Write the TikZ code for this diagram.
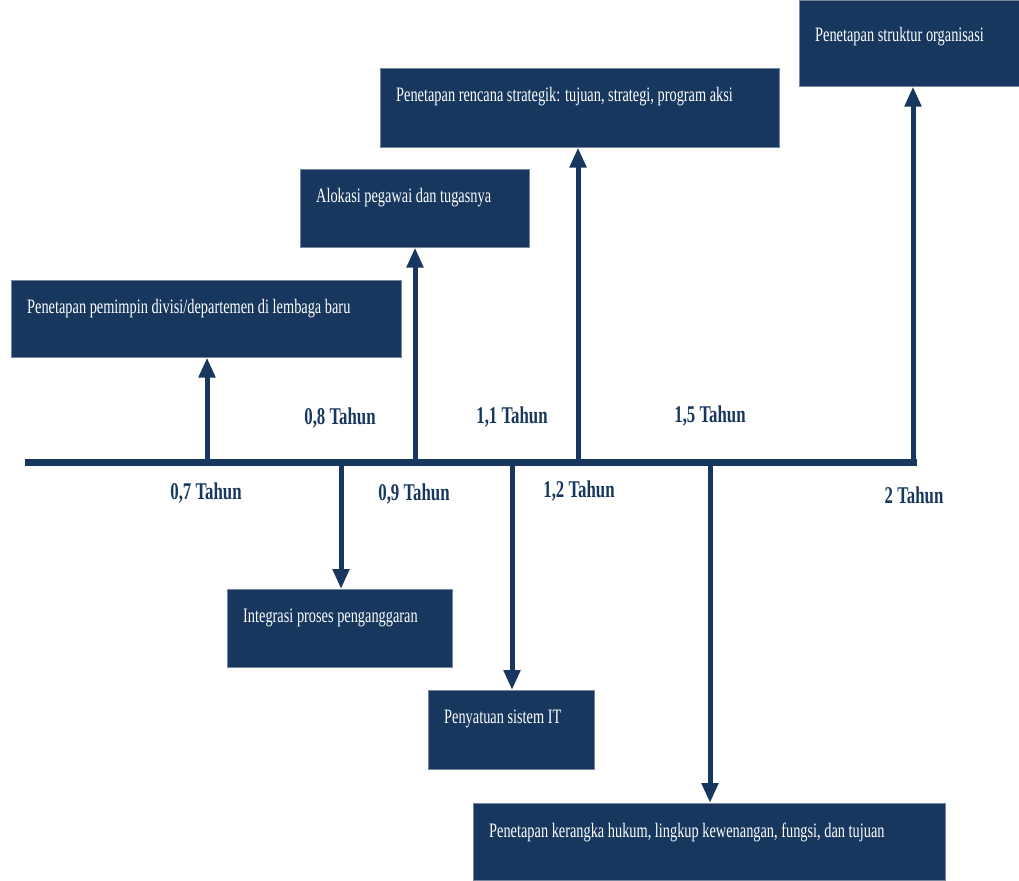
\documentclass[tikz,border=0pt]{standalone}
\usepackage{fontspec}
\setmainfont{Liberation Serif}[FakeStretch=0.70]
\usetikzlibrary{arrows.meta,calc}
\definecolor{navy}{HTML}{17375E}
\begin{document}
\begin{tikzpicture}[x=1pt,y=-1pt,
  box/.style={draw=navy!60!white,line width=0.6pt,fill=navy,anchor=north west,inner sep=0pt},
  boxtext/.style={text=white,anchor=west,inner sep=0pt,font=\fontsize{20.5}{24}\selectfont},
  yr/.style={text=navy,inner sep=0pt,font=\fontsize{24}{28}\selectfont\bfseries},
  arr/.style={draw=navy,line width=5pt,-{Triangle[length=20pt,width=16pt]}},
  mainline/.style={draw=navy,line width=7pt}]
\useasboundingbox (0,0) rectangle (1019,880);
% boxes
\node[box,minimum width=390pt,minimum height=77pt] (b1) at (11,280) {};
\node[box,minimum width=229pt,minimum height=78pt] (b2) at (300,169) {};
\node[box,minimum width=399pt,minimum height=79pt] (b3) at (380,68) {};
\node[box,minimum width=220pt,minimum height=86pt] (b4) at (799,0) {};
\node[box,minimum width=225pt,minimum height=78pt] (b5) at (227,589) {};
\node[box,minimum width=166pt,minimum height=79pt] (b6) at (428,690) {};
\node[box,minimum width=472pt,minimum height=77pt] (b7) at (473,803) {};
% box texts
\node[boxtext] (t1) at (27,309) {Penetapan pemimpin divisi/departemen di lembaga baru};
\node[boxtext] (t2) at (316,198) {Alokasi pegawai dan tugasnya};
\node[boxtext] (t3) at (396,97) {Penetapan rencana strategik: tujuan, strategi, program aksi};
\node[boxtext] (t4) at (815,37) {Penetapan struktur organisasi};
\node[boxtext] (t5) at (243,618) {Integrasi proses penganggaran};
\node[boxtext] (t6) at (444,719) {Penyatuan sistem IT};
\node[boxtext] (t7) at (489,832) {Penetapan kerangka hukum, lingkup kewenangan, fungsi, dan tujuan};
% main line
\coordinate (L0) at (25,462);
\coordinate (L1) at (917,462);
\coordinate (c1) at (207,462);
\coordinate (c2) at (415,462);
\coordinate (c3) at (578,462);
\coordinate (c4) at (913,462);
\coordinate (c5) at (341,462);
\coordinate (c6) at (512,462);
\coordinate (c7) at (710,462);
\draw[mainline] (L0) -- (L1);
% arrows
\draw[arr] (c1) -- (c1 |- b1.south);
\draw[arr] (c2) -- (c2 |- b2.south);
\draw[arr] (c3) -- (c3 |- b3.south);
\draw[arr] (c4) -- (c4 |- b4.south);
\draw[arr] (c5) -- (c5 |- b5.north);
\draw[arr] (c6) -- (c6 |- b6.north);
\draw[arr] (c7) -- (c7 |- b7.north);
% year labels
\node[yr] (y07) at (206,493) {0,7 Tahun};
\node[yr] (y08) at (340,418) {0,8 Tahun};
\node[yr] (y09) at (414,494) {0,9 Tahun};
\node[yr] (y11) at (512,417) {1,1 Tahun};
\node[yr] (y12) at (579,491) {1,2 Tahun};
\node[yr] (y15) at (710,416) {1,5 Tahun};
\node[yr] (y20) at (914,495) {2 Tahun};
\end{tikzpicture}
\end{document}
